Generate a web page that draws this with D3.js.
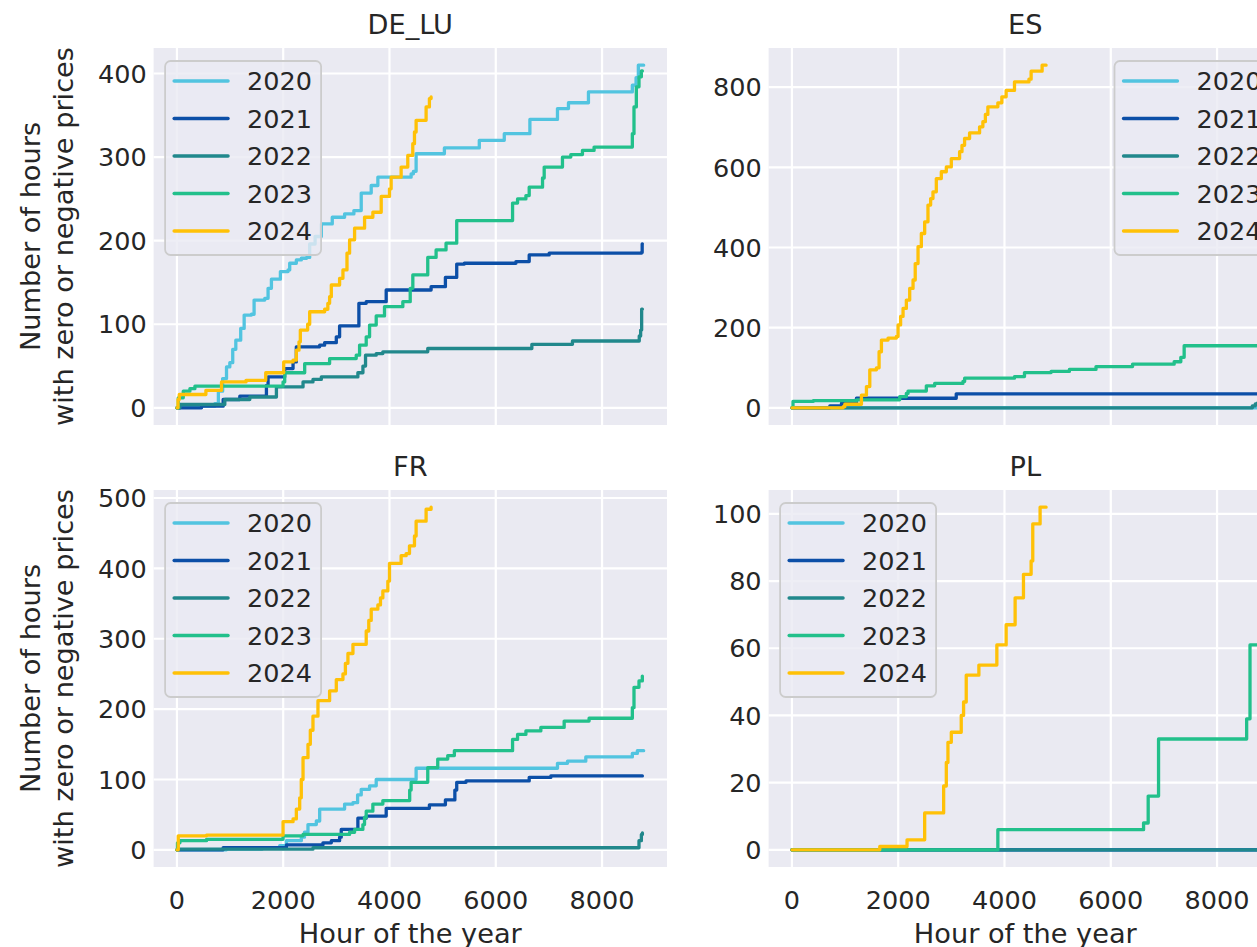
<!DOCTYPE html>
<html lang="en">
<head>
  <meta charset="UTF-8">
  <title>Cumulative hours with zero or negative prices</title>
  <script src="https://d3js.org/d3.v7.min.js"></script>
  <style>
    body { margin: 0; background: #fff; }
    text { font-family: "DejaVu Sans", sans-serif; fill: #262626; }
  </style>
</head>
<body>
<div id="chart"></div>
<script>
  // categories
  const years = ["2020", "2021", "2022", "2023", "2024"];
  const colors = ["#52c4e0", "#0c4fa7", "#21888c", "#22c08b", "#ffc107"];
  const countries = ["DE_LU", "ES", "FR", "PL"];

  // tick labels
  const xTicks = [0, 2000, 4000, 6000, 8000];
  const yTicksDE = [0, 100, 200, 300, 400];
  const yTicksES = [0, 200, 400, 600, 800];
  const yTicksFR = [0, 100, 200, 300, 400, 500];
  const yTicksPL = [0, 20, 40, 60, 80, 100];

  // [hour, cumulative hours] step points
  const DE_LU_2020 = [[0,0],[60,2],[714,5],[780,20],[860,35],[933,49],[995,54],[1050,70],[1108,81],[1200,95],[1265,111],[1402,112],[1452,129],[1653,131],[1715,143],[1778,154],[1947,163],[2091,165],[2122,173],[2247,177],[2341,179],[2440,180],[2498,196],[2600,205],[2717,220],[2923,228],[3155,232],[3330,236],[3468,257],[3656,266],[3781,276],[4407,280],[4450,283],[4501,304],[5033,311],[5690,320],[6160,328],[6642,345],[7161,358],[7368,365],[7744,378],[8570,386],[8640,395],[8683,410],[8783,410]];
  const DE_LU_2021 = [[0,0],[463,2],[870,10],[1183,14],[1684,27],[1715,37],[2028,47],[2185,55],[2247,73],[2686,75],[2779,78],[2999,85],[3061,98],[3424,125],[3562,127],[3938,141],[4783,145],[5052,156],[5265,172],[5409,173],[6379,175],[6629,183],[7005,185],[8740,186],[8755,196],[8759,196]];
  const DE_LU_2022 = [[0,0],[56,4],[901,10],[1371,13],[1872,25],[2373,31],[2560,34],[2717,37],[3405,42],[3500,50],[3549,63],[3750,65],[3875,67],[4720,71],[6679,76],[7443,80],[8700,86],[8726,93],[8745,118],[8759,118]];
  const DE_LU_2023 = [[0,0],[25,12],[119,20],[244,23],[338,26],[1997,31],[2028,42],[2404,53],[2873,59],[3374,63],[3437,75],[3562,85],[3625,99],[3750,110],[3906,121],[4251,127],[4390,143],[4439,159],[4720,180],[4877,189],[5064,197],[5265,224],[6316,245],[6410,250],[6567,254],[6629,264],[6880,275],[6911,288],[7255,300],[7412,303],[7631,308],[7850,312],[8570,328],[8601,360],[8645,384],[8695,396],[8740,403],[8759,403]];
  const DE_LU_2024 = [[0,0],[20,10],[44,16],[545,21],[839,31],[1300,33],[1671,42],[2009,55],[2185,57],[2247,69],[2297,79],[2322,93],[2460,100],[2498,115],[2780,118],[2840,125],[2873,133],[2905,147],[3061,155],[3124,165],[3200,185],[3249,201],[3343,215],[3531,228],[3687,234],[3844,253],[4000,262],[4031,276],[4219,288],[4344,302],[4438,316],[4470,330],[4501,344],[4689,360],[4751,370],[4783,372]];

  const ES_2020 = [[0,0],[8783,0]];
  const ES_2021 = [[0,0],[714,5],[933,12],[1214,24],[3092,35],[8759,35]];
  const ES_2022 = [[0,0],[8664,5],[8720,10],[8759,12]];
  const ES_2023 = [[0,0],[20,16],[401,18],[1214,20],[2028,28],[2153,36],[2185,42],[2529,55],[2686,61],[3218,66],[3250,74],[4188,78],[4376,88],[4877,91],[5221,96],[5722,103],[6410,109],[7193,115],[7318,126],[7381,155],[8759,155]];
  const ES_2024 = [[0,0],[964,3],[995,9],[1308,32],[1402,53],[1465,95],[1590,100],[1640,140],[1684,169],[1809,174],[1966,178],[1997,207],[2045,228],[2091,248],[2153,269],[2216,298],[2279,319],[2320,360],[2373,402],[2435,435],[2498,464],[2560,506],[2610,522],[2654,539],[2717,572],[2811,589],[2905,601],[2999,622],[3155,639],[3200,655],[3249,672],[3343,686],[3531,701],[3593,714],[3640,732],[3687,751],[3875,761],[3950,776],[4031,792],[4188,813],[4460,820],[4501,840],[4708,855],[4783,855]];

  const FR_2020 = [[0,0],[933,1],[1600,2],[1934,6],[2060,13],[2341,18],[2400,25],[2466,36],[2623,41],[2686,58],[3155,65],[3312,67],[3400,78],[3468,86],[3625,91],[3750,100],[4501,116],[7161,123],[7350,126],[7694,132],[8570,137],[8664,141],[8783,141]];
  const FR_2021 = [[0,0],[870,3],[2060,7],[2748,10],[2905,13],[3061,18],[3092,29],[3405,45],[3562,48],[3938,59],[4751,64],[5052,71],[5230,85],[5265,96],[5440,98],[6629,103],[7036,105],[8759,105]];
  const FR_2022 = [[0,0],[20,1],[2560,3],[8695,13],[8740,22],[8759,24]];
  const FR_2023 = [[0,0],[10,10],[56,13],[557,15],[1997,20],[2373,22],[3249,25],[3343,29],[3499,36],[3530,46],[3562,55],[3687,65],[3875,70],[4380,85],[4407,96],[4720,117],[4908,129],[5096,134],[5221,141],[6316,157],[6410,164],[6567,169],[6848,174],[7287,183],[7756,187],[8570,202],[8601,231],[8695,240],[8758,247]];
  const FR_2024 = [[0,0],[25,20],[557,21],[1997,40],[2185,44],[2247,58],[2310,74],[2340,100],[2373,131],[2466,150],[2510,170],[2560,190],[2654,212],[2873,226],[2999,242],[3124,250],[3170,265],[3218,279],[3312,292],[3562,311],[3610,326],[3656,342],[3781,348],[3830,358],[3875,368],[3969,382],[4000,407],[4219,418],[4313,421],[4376,432],[4470,446],[4501,467],[4689,484],[4783,487]];

  const PL_2020 = [[0,0],[8783,0]];
  const PL_2021 = [[0,0],[8759,0]];
  const PL_2022 = [[0,0],[8759,0]];
  const PL_2023 = [[0,0],[3875,6],[6617,8],[6704,16],[6899,33],[8557,39],[8620,61],[8759,61]];
  const PL_2024 = [[0,0],[1653,1],[2166,3],[2498,11],[2855,19],[2905,26],[2936,32],[2999,35],[3186,40],[3230,44],[3280,52],[3518,55],[3856,61],[4031,67],[4200,75],[4357,82],[4501,86],[4532,97],[4670,102],[4783,102]];

  const panels = [
    {name: "DE_LU", series: [DE_LU_2020, DE_LU_2021, DE_LU_2022, DE_LU_2023, DE_LU_2024], yTicks: yTicksDE, row: 0, col: 0, legend: "left"},
    {name: "ES", series: [ES_2020, ES_2021, ES_2022, ES_2023, ES_2024], yTicks: yTicksES, row: 0, col: 1, legend: "right"},
    {name: "FR", series: [FR_2020, FR_2021, FR_2022, FR_2023, FR_2024], yTicks: yTicksFR, row: 1, col: 0, legend: "left"},
    {name: "PL", series: [PL_2020, PL_2021, PL_2022, PL_2023, PL_2024], yTicks: yTicksPL, row: 1, col: 1, legend: "left"}
  ];

  const width = 1257, height = 947;
  const colX = [153.6, 768.6], rowY = [48, 490];
  const pw = 513.4, ph = 377;

  const svg = d3.select("#chart").append("svg")
    .attr("width", width)
    .attr("height", height);

  // shared x extent with matplotlib-like 5% margins
  const xMax = d3.max(panels, p => d3.max(p.series, s => d3.max(s, d => d[0])));
  const x = d3.scaleLinear()
    .domain([-0.05 * xMax, 1.05 * xMax])
    .range([0, pw]);

  const line = d3.line().curve(d3.curveStepAfter);

  panels.forEach((p, pi) => {
    const g = svg.append("g")
      .attr("transform", `translate(${colX[p.col]},${rowY[p.row]})`);

    const yMax = d3.max(p.series, s => d3.max(s, d => d[1]));
    const y = d3.scaleLinear()
      .domain([-0.05 * yMax, 1.05 * yMax])
      .range([ph, 0]);

    g.append("rect")
      .attr("width", pw)
      .attr("height", ph)
      .attr("fill", "#eaeaf2");

    // grid
    g.append("g")
      .selectAll("line")
      .data(xTicks)
      .join("line")
        .attr("x1", d => x(d)).attr("x2", d => x(d))
        .attr("y1", 0).attr("y2", ph)
        .attr("stroke", "#fff").attr("stroke-width", 2.2);
    g.append("g")
      .selectAll("line")
      .data(p.yTicks)
      .join("line")
        .attr("x1", 0).attr("x2", pw)
        .attr("y1", d => y(d)).attr("y2", d => y(d))
        .attr("stroke", "#fff").attr("stroke-width", 2.2);

    // lines
    const clipId = "clip" + pi;
    g.append("clipPath").attr("id", clipId)
      .append("rect").attr("width", pw).attr("height", ph);

    line.x(d => x(d[0])).y(d => y(d[1]));
    g.append("g")
      .attr("clip-path", `url(#${clipId})`)
      .selectAll("path")
      .data(p.series)
      .join("path")
        .attr("d", d => line(d))
        .attr("fill", "none")
        .attr("stroke", (d, i) => colors[i])
        .attr("stroke-width", 3.3)
        .attr("stroke-linecap", "round")
        .attr("stroke-linejoin", "round");

    // y tick labels
    g.append("g")
      .selectAll("text")
      .data(p.yTicks)
      .join("text")
        .attr("x", -7)
        .attr("y", d => y(d))
        .attr("dy", "0.36em")
        .attr("text-anchor", "end")
        .style("font-size", "25.5px")
        .text(d => d);

    // x tick labels on bottom row
    if (p.row === 1) {
      g.append("g")
        .selectAll("text")
        .data(xTicks)
        .join("text")
          .attr("x", d => x(d))
          .attr("y", ph + 42)
          .attr("text-anchor", "middle")
          .style("font-size", "25.5px")
          .text(d => d);

      g.append("text")
        .attr("x", pw / 2)
        .attr("y", ph + 76)
        .attr("text-anchor", "middle")
        .style("font-size", "27.2px")
        .text("Hour of the year");
    }

    // y label on left column
    if (p.col === 0) {
      const lab = g.append("text")
        .attr("transform", `translate(${40 - colX[0]},${ph / 2}) rotate(-90)`)
        .attr("text-anchor", "middle")
        .style("font-size", "27.2px");
      lab.append("tspan").attr("x", 0).attr("y", 0).text("Number of hours");
      lab.append("tspan").attr("x", 0).attr("y", 32.6).text("with zero or negative prices");
    }

    // title
    g.append("text")
      .attr("x", pw / 2)
      .attr("y", -14)
      .attr("text-anchor", "middle")
      .style("font-size", "27.2px")
      .text(p.name);

    // legend
    const lw = 156, lh = 194;
    const lx = p.legend === "left" ? 11.5 : pw - 11.5 - lw;
    const leg = g.append("g").attr("transform", `translate(${lx},13)`);
    leg.append("rect")
      .attr("width", lw).attr("height", lh)
      .attr("rx", 5.5)
      .attr("fill", "#eaeaf2").attr("fill-opacity", 0.8)
      .attr("stroke", "#cccccc").attr("stroke-width", 1.8);
    years.forEach((yr, i) => {
      const cy = 20 + i * 37.5;
      leg.append("line")
        .attr("x1", 9).attr("x2", 63)
        .attr("y1", cy).attr("y2", cy)
        .attr("stroke", colors[i]).attr("stroke-width", 3.3)
        .attr("stroke-linecap", "round");
      leg.append("text")
        .attr("x", 82).attr("y", cy)
        .attr("dy", "0.36em")
        .style("font-size", "25.5px")
        .text(yr);
    });
  });
</script>
</body>
</html>
